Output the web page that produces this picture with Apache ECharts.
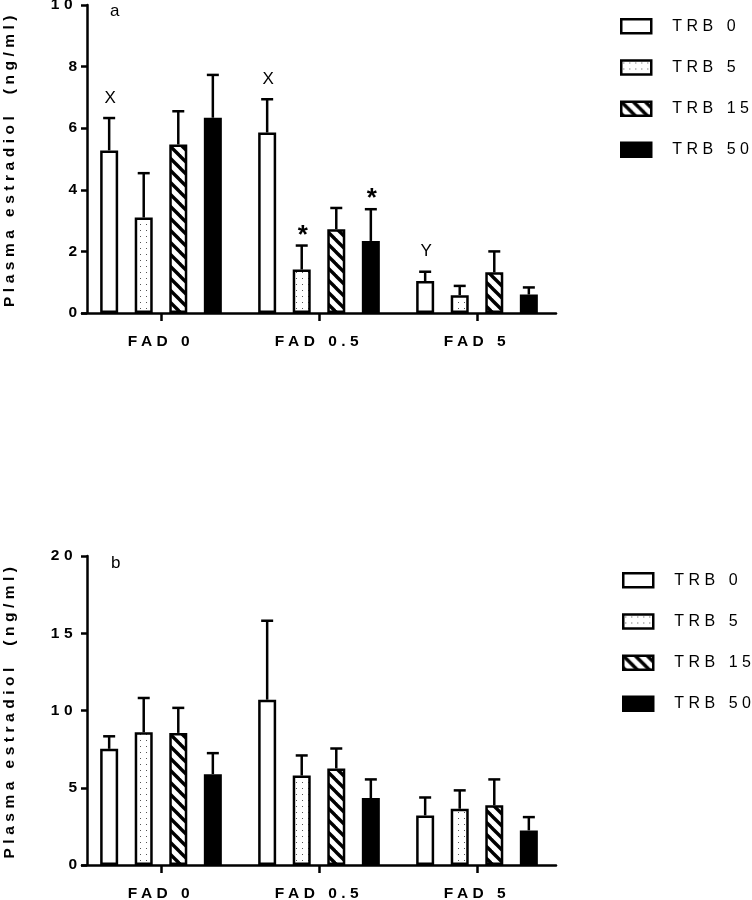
<!DOCTYPE html>
<html><head><meta charset="utf-8">
<script src="https://cdn.jsdelivr.net/npm/echarts@6/dist/echarts.min.js"></script>
<style>html,body{margin:0;padding:0;background:#fff}#c{width:752px;height:900px}</style>
</head><body><div id="c"></div>
<script>
// ---------- DATA ----------
const categories = ['FAD 0', 'FAD 0.5', 'FAD 5'];
const seriesNames = ['TRB 0', 'TRB 5', 'TRB 15', 'TRB 50'];

// Panel a : means and upper end of error bars
const a_TRB0 = [5.28, 5.86, 1.04];
const a_TRB5 = [3.10, 1.41, 0.58];
const a_TRB15 = [5.47, 2.72, 1.32];
const a_TRB50 = [6.34, 2.34, 0.60];
const a_TRB0_upper = [6.33, 6.94, 1.34];
const a_TRB5_upper = [4.54, 2.19, 0.88];
const a_TRB15_upper = [6.55, 3.41, 2.00];
const a_TRB50_upper = [7.73, 3.37, 0.83];

// Panel b
const b_TRB0 = [7.52, 10.70, 3.21];
const b_TRB5 = [8.59, 5.79, 3.64];
const b_TRB15 = [8.55, 6.25, 3.86];
const b_TRB50 = [5.88, 4.33, 2.24];
const b_TRB0_upper = [8.33, 15.81, 4.37];
const b_TRB5_upper = [10.81, 7.09, 4.83];
const b_TRB15_upper = [10.17, 7.54, 5.54];
const b_TRB50_upper = [7.24, 5.54, 3.10];

// tick labels
const yTicksA = [0, 2, 4, 6, 8, 10];
const yTicksB = [0, 5, 10, 15, 20];

// annotations in panel a: [category index, series index, text]
const annotationsA = [[0, 0, 'X'], [1, 0, 'X'], [1, 1, '*'], [1, 3, '*'], [2, 0, 'Y']];

const panelLabels = ['a', 'b'];
const yTitle = 'Plasma estradiol  (ng/ml)';

// ---------- STYLE ----------
// reference typesetting is letter-spaced: widen tracking when text is drawn
const TRACKING = 4.5;
(function () {
  const P = window.CanvasRenderingContext2D && CanvasRenderingContext2D.prototype;
  if (!P || !('letterSpacing' in P)) return;
  const orig = P.fillText;
  P.fillText = function (t, x, y, w) {
    this.letterSpacing = String(t).length > 1 ? TRACKING + 'px' : '0px';
    return w === undefined ? orig.call(this, t, x, y) : orig.call(this, t, x, y, w);
  };
})();

const FONT = 'Liberation Sans, Arial, sans-serif';
const LBL = 15.5;
const BAR_W = 18, BAR_GAP = 0.92, PITCH = BAR_W * (1 + BAR_GAP);

function dotPattern() {
  const c = document.createElement('canvas'); c.width = 6; c.height = 6;
  const g = c.getContext('2d');
  g.fillStyle = '#fff'; g.fillRect(0, 0, 6, 6);
  g.fillStyle = '#555'; g.fillRect(2, 2, 1, 1);
  return c;
}
function stripePattern() {
  const n = 12;
  const c = document.createElement('canvas'); c.width = n; c.height = n;
  const g = c.getContext('2d');
  g.fillStyle = '#fff'; g.fillRect(0, 0, n, n);
  g.strokeStyle = '#000'; g.lineWidth = 3.4;
  for (const k of [-n, 0, n]) { g.beginPath(); g.moveTo(k - 3, -3); g.lineTo(k + n + 3, n + 3); g.stroke(); }
  return c;
}
const fills = ['#ffffff', { image: dotPattern(), repeat: 'repeat' }, { image: stripePattern(), repeat: 'repeat' }, '#000000'];

const meansA = [a_TRB0, a_TRB5, a_TRB15, a_TRB50];
const upperA = [a_TRB0_upper, a_TRB5_upper, a_TRB15_upper, a_TRB50_upper];
const meansB = [b_TRB0, b_TRB5, b_TRB15, b_TRB50];
const upperB = [b_TRB0_upper, b_TRB5_upper, b_TRB15_upper, b_TRB50_upper];

const axisLineStyle = { color: '#000', width: 2.5 };

function xAxisFor(gi, margin) {
  return {
    gridIndex: gi, type: 'category', data: categories,
    axisLine: { show: true, lineStyle: axisLineStyle },
    axisTick: { show: true, alignWithLabel: true, length: 8, lineStyle: axisLineStyle },
    axisLabel: { interval: 0, color: '#000', fontFamily: FONT, fontWeight: 'bold', fontSize: LBL, margin: margin },
    splitLine: { show: false }
  };
}
function yAxisFor(gi, ticks, offset) {
  return {
    gridIndex: gi, type: 'value', min: ticks[0], max: ticks[ticks.length - 1], interval: ticks[1] - ticks[0],
    offset: offset,
    axisLine: { show: true, lineStyle: axisLineStyle },
    axisTick: { show: true, length: 6, lineStyle: axisLineStyle },
    axisLabel: { color: '#000', fontFamily: FONT, fontWeight: 'bold', fontSize: LBL, margin: 10 },
    splitLine: { show: false },
    name: yTitle, nameLocation: 'middle', nameGap: 69, nameRotate: 90,
    nameTextStyle: { color: '#000', fontFamily: FONT, fontWeight: 'bold', fontSize: LBL }
  };
}

const series = [];
function addPanel(gi, means, uppers) {
  means.forEach((m, s) => {
    series.push({
      type: 'bar', name: seriesNames[s], xAxisIndex: gi, yAxisIndex: gi,
      data: m, barWidth: BAR_W, barGap: (BAR_GAP * 100) + '%',
      itemStyle: { color: fills[s], borderColor: '#000', borderWidth: 2.5 },
      emphasis: { disabled: true }
    });
  });
  const errData = [];
  means.forEach((m, s) => m.forEach((v, c) => errData.push([c, s, v, uppers[s][c]])));
  series.push({
    type: 'custom', xAxisIndex: gi, yAxisIndex: gi, data: errData, z: 5,
    encode: { x: 0, y: [2, 3] },
    renderItem: function (params, api) {
      const c = api.value(0), s = api.value(1);
      const base = api.coord([c, api.value(2)]);
      const top = api.coord([c, api.value(3)]);
      const x = base[0] + (s - 1.5) * PITCH;
      return {
        type: 'group', children: [
          { type: 'line', shape: { x1: x, y1: base[1], x2: x, y2: top[1] }, style: { stroke: '#000', lineWidth: 2.5 } },
          { type: 'line', shape: { x1: x - 6, y1: top[1], x2: x + 6, y2: top[1] }, style: { stroke: '#000', lineWidth: 2.5 } }
        ]
      };
    }
  });
}
addPanel(0, meansA, upperA);
addPanel(1, meansB, upperB);

// annotations (panel a)
const annData = annotationsA.map(a => [a[0], a[1], upperA[a[1]][a[0]]]);
series.push({
  type: 'custom', xAxisIndex: 0, yAxisIndex: 0, data: annData, z: 6,
  encode: { x: 0, y: 2 },
  renderItem: function (params, api) {
    const c = api.value(0), s = api.value(1);
    const p = api.coord([c, api.value(2)]);
    const txt = annotationsA[params.dataIndex][2];
    const star = txt === '*';
    return {
      type: 'text', x: p[0] + (s - 1.5) * PITCH + 1, y: p[1] - (star ? 10 : 20),
      style: {
        text: txt, fill: '#000', fontFamily: FONT,
        fontSize: star ? 26 : 17, fontWeight: star ? 'bold' : 'normal',
        align: 'center', verticalAlign: 'middle'
      }
    };
  }
});

function legendFor(left, top) {
  return {
    orient: 'vertical', left: left, top: top, data: seriesNames, icon: 'rect',
    itemWidth: 30, itemHeight: 14, itemGap: 24.7, selectedMode: false,
    itemStyle: { borderColor: '#000', borderWidth: 2.5 },
    textStyle: { color: '#000', fontFamily: FONT, fontSize: 16, padding: [0, 0, 0, 16], lineHeight: 16 }
  };
}

const option = {
  animation: false,
  backgroundColor: '#fff',
  grid: [
    { left: 82, top: 5, width: 474, height: 308, outerBoundsMode: 'none', containLabel: false },
    { left: 82, top: 556, width: 474, height: 309, outerBoundsMode: 'none', containLabel: false }
  ],
  xAxis: [xAxisFor(0, 21), xAxisFor(1, 21)],
  yAxis: [yAxisFor(0, yTicksA, -5), yAxisFor(1, yTicksB, -5)],
  legend: [legendFor(615, 13), legendFor(617, 567)],
  graphic: [
    { type: 'text', left: 110, top: 3, style: { text: panelLabels[0], fontFamily: FONT, fontSize: 17, fill: '#000' } },
    { type: 'text', left: 111, top: 555, style: { text: panelLabels[1], fontFamily: FONT, fontSize: 17, fill: '#000' } }
  ],
  series: series
};

const chart = echarts.init(document.getElementById('c'), null, { renderer: 'canvas' });
chart.setOption(option);
</script>
</body></html>
